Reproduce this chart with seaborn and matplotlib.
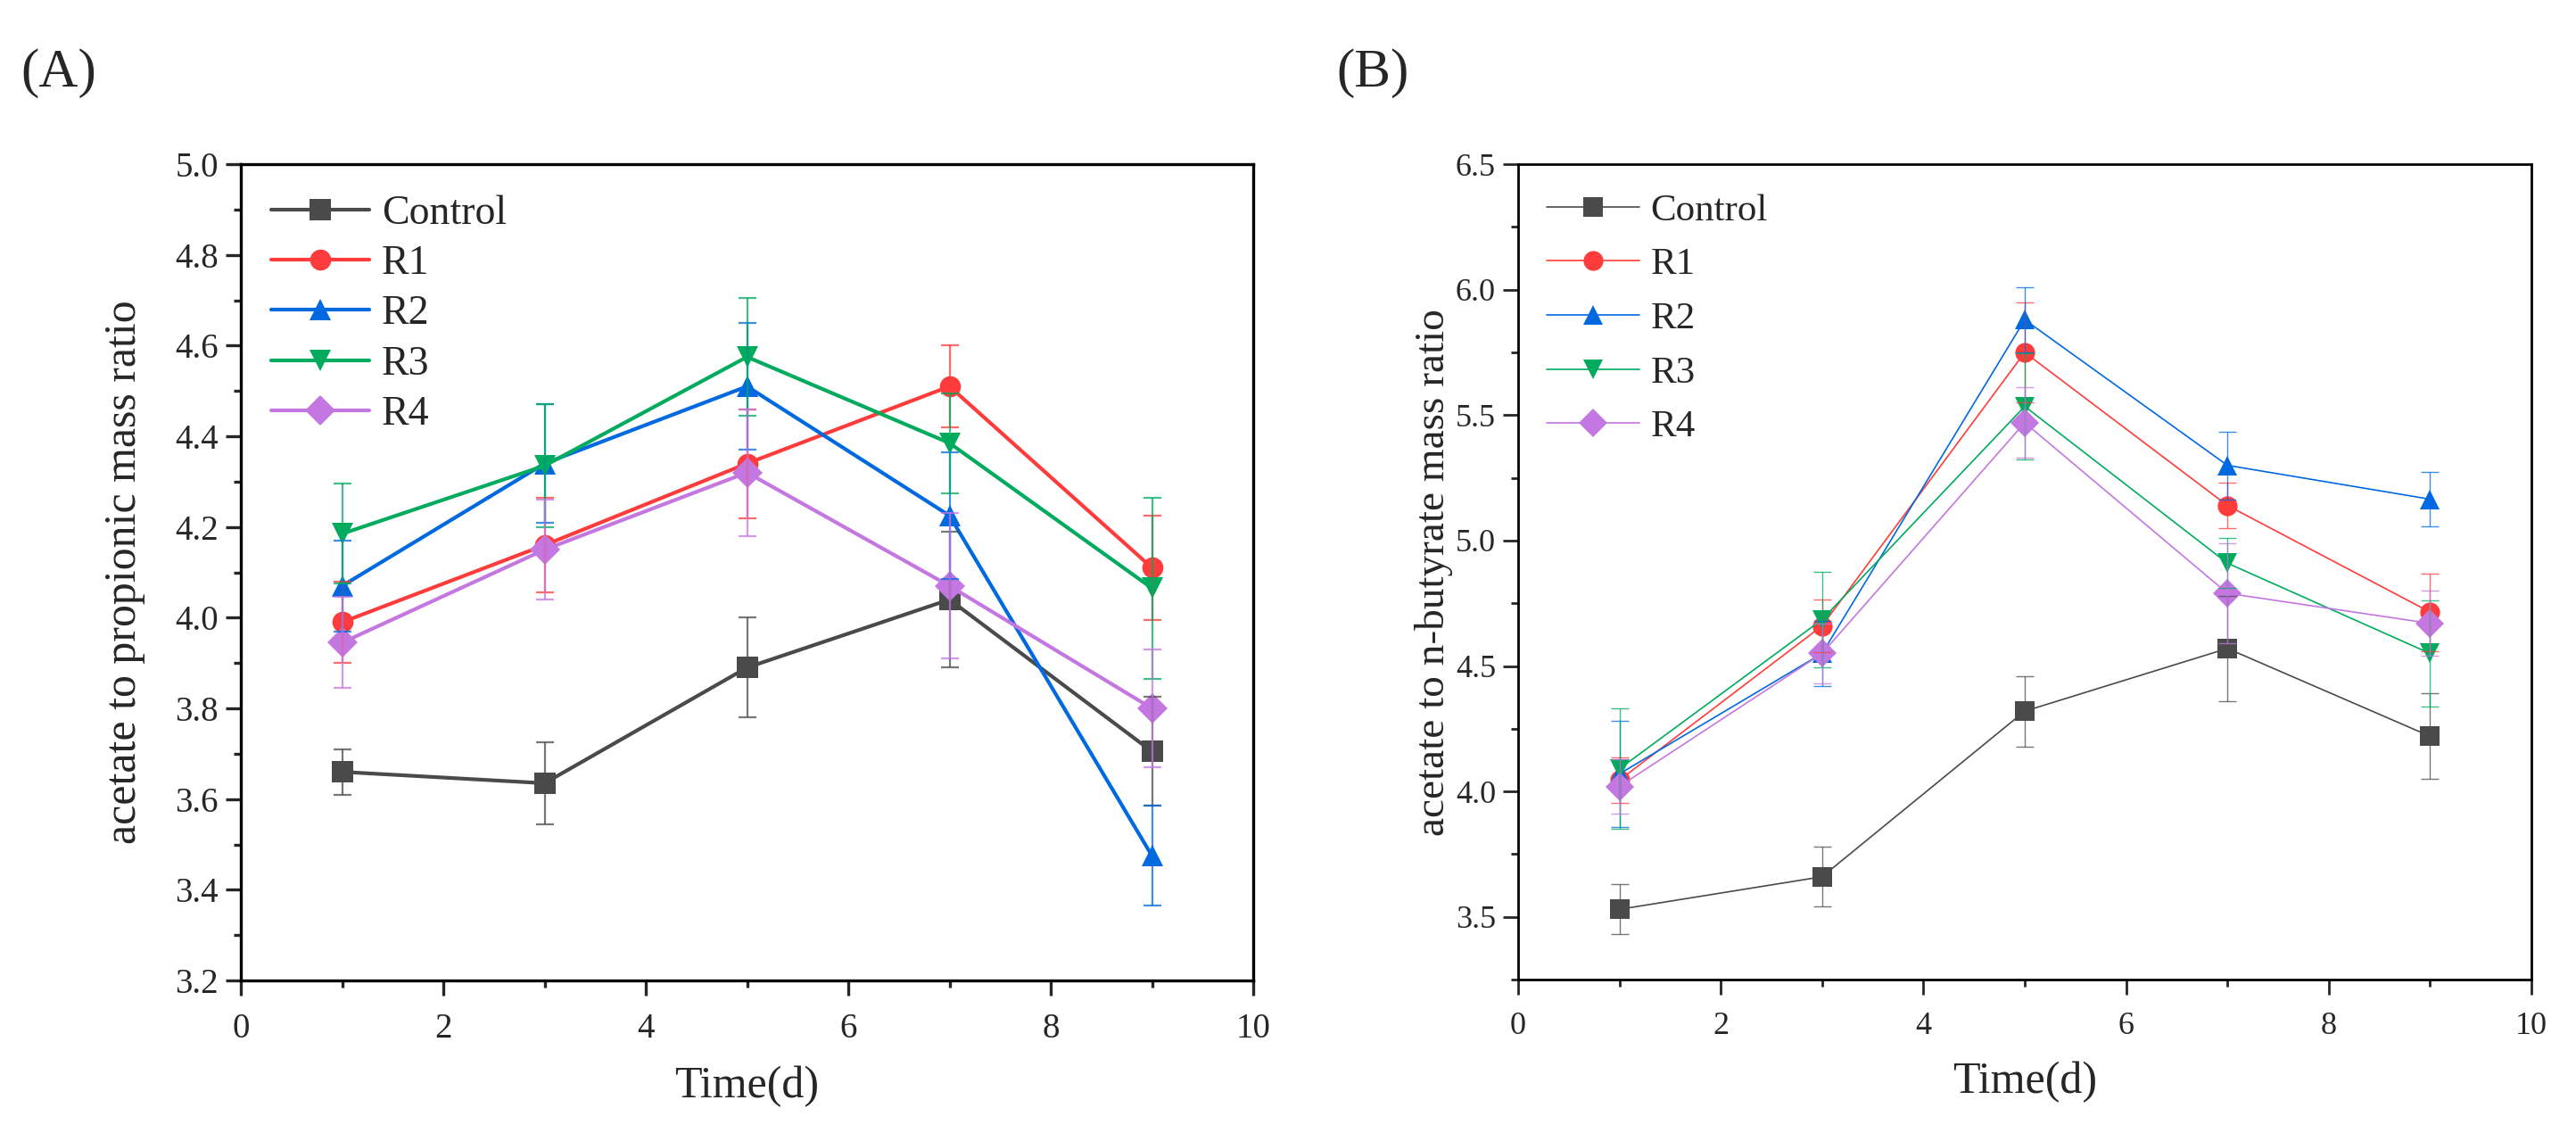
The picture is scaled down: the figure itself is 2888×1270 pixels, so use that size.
import matplotlib
matplotlib.use("Agg")
import numpy as np
import pandas as pd
import matplotlib.pyplot as plt
import seaborn as sns
from matplotlib.ticker import MultipleLocator, FormatStrFormatter

# ---------------- data ----------------
days = [1, 3, 5, 7, 9]
groups = ["Control", "R1", "R2", "R3", "R4"]

# (A) acetate to propionic mass ratio
prop_control = [3.66, 3.635, 3.89, 4.04, 3.705]
prop_r1 = [3.99, 4.16, 4.34, 4.51, 4.11]
prop_r2 = [4.07, 4.34, 4.51, 4.225, 3.475]
prop_r3 = [4.185, 4.335, 4.575, 4.385, 4.065]
prop_r4 = [3.945, 4.15, 4.32, 4.07, 3.80]
prop_control_err = [0.05, 0.09, 0.11, 0.15, 0.12]
prop_r1_err = [0.09, 0.105, 0.12, 0.09, 0.115]
prop_r2_err = [0.10, 0.13, 0.14, 0.14, 0.11]
prop_r3_err = [0.11, 0.135, 0.13, 0.11, 0.20]
prop_r4_err = [0.10, 0.11, 0.14, 0.16, 0.13]

# (B) acetate to n-butyrate mass ratio
but_control = [3.53, 3.66, 4.32, 4.57, 4.22]
but_r1 = [4.045, 4.66, 5.75, 5.14, 4.715]
but_r2 = [4.07, 4.55, 5.88, 5.30, 5.165]
but_r3 = [4.09, 4.685, 5.535, 4.91, 4.55]
but_r4 = [4.02, 4.55, 5.47, 4.79, 4.67]
but_control_err = [0.10, 0.12, 0.14, 0.21, 0.17]
but_r1_err = [0.09, 0.105, 0.20, 0.09, 0.155]
but_r2_err = [0.21, 0.13, 0.13, 0.135, 0.11]
but_r3_err = [0.24, 0.19, 0.21, 0.10, 0.21]
but_r4_err = [0.11, 0.12, 0.14, 0.20, 0.13]

colors = ["#4a4a4a", "#ff3b3b", "#0069e0", "#00ab5e", "#c477e0"]
marker_list = ["s", "o", "^", "v", "D"]


def make_table(means, errs):
    rows = []
    for g, m, e in zip(groups, means, errs):
        for d, v, s in zip(days, m, e):
            rows.append({"day": d, "ratio": v, "err": s, "group": g})
    return pd.DataFrame(rows)


df_prop = make_table([prop_control, prop_r1, prop_r2, prop_r3, prop_r4],
                     [prop_control_err, prop_r1_err, prop_r2_err, prop_r3_err, prop_r4_err])
df_but = make_table([but_control, but_r1, but_r2, but_r3, but_r4],
                    [but_control_err, but_r1_err, but_r2_err, but_r3_err, but_r4_err])

sns.set_style("ticks")
plt.rcParams["font.family"] = ["Liberation Serif", "DejaVu Serif"]

palette = dict(zip(groups, colors))
markers = dict(zip(groups, marker_list))

fig = plt.figure(figsize=(28.88, 12.70), dpi=100)
ax_a = fig.add_axes([0.0935, 0.1346, 0.393, 0.7205])
ax_b = fig.add_axes([0.5893, 0.1354, 0.3934, 0.7196])


def draw_panel(ax, df, lw, elw, spine_w, ms, tick_size, leg_size, leg_space):
    sns.lineplot(data=df, x="day", y="ratio", hue="group", style="group",
                 palette=palette, markers=markers, dashes=False, errorbar=None,
                 linewidth=lw, markersize=ms, markeredgewidth=0, ax=ax, zorder=3)
    for g in groups:
        sub = df[df["group"] == g]
        ax.errorbar(sub["day"], sub["ratio"], yerr=sub["err"], fmt="none",
                    ecolor=palette[g], elinewidth=elw, capsize=7, capthick=elw,
                    alpha=0.75, zorder=4)
    ax.set_xlim(0, 10)
    ax.xaxis.set_major_locator(MultipleLocator(2))
    ax.xaxis.set_minor_locator(MultipleLocator(1))
    ax.tick_params(which="major", direction="out", length=12, width=spine_w,
                   labelsize=tick_size, pad=6)
    ax.tick_params(axis="x", which="major", pad=14)
    ax.tick_params(which="minor", direction="out", length=6, width=spine_w)
    for sp in ax.spines.values():
        sp.set_linewidth(spine_w)
        sp.set_color("black")
    ax.set_xlabel("Time(d)", fontsize=36, labelpad=16)
    handles, labels = ax.get_legend_handles_labels()
    keep = [(h, l) for h, l in zip(handles, labels) if l in groups]
    ax.legend([h for h, _ in keep], [l for _, l in keep], loc="upper left",
              frameon=False, fontsize=leg_size, handlelength=2.4,
              labelspacing=leg_space, borderaxespad=0.35, handletextpad=0.3)


draw_panel(ax_a, df_prop, 3.0, 1.6, 2.4, 17, 28, 33, 0.3)
ax_a.set_ylim(3.2, 5.0)
ax_a.yaxis.set_major_locator(MultipleLocator(0.2))
ax_a.yaxis.set_minor_locator(MultipleLocator(0.1))
ax_a.yaxis.set_major_formatter(FormatStrFormatter("%.1f"))
ax_a.set_ylabel("acetate to propionic mass ratio", fontsize=36, labelpad=24)

draw_panel(ax_b, df_but, 1.2, 1.0, 2.0, 16, 26, 31, 0.5)
ax_b.set_ylim(3.25, 6.5)
ax_b.yaxis.set_major_locator(MultipleLocator(0.5))
ax_b.yaxis.set_minor_locator(MultipleLocator(0.25))
ax_b.yaxis.set_major_formatter(FormatStrFormatter("%.1f"))
ax_b.set_ylabel("acetate to n-butyrate mass ratio", fontsize=34, labelpad=2)

fig.text(0.008, 0.935, "(A)", fontsize=44, ha="left", va="center")
fig.text(0.519, 0.935, "(B)", fontsize=44, ha="left", va="center")

fig.savefig("out.png", dpi=100)
